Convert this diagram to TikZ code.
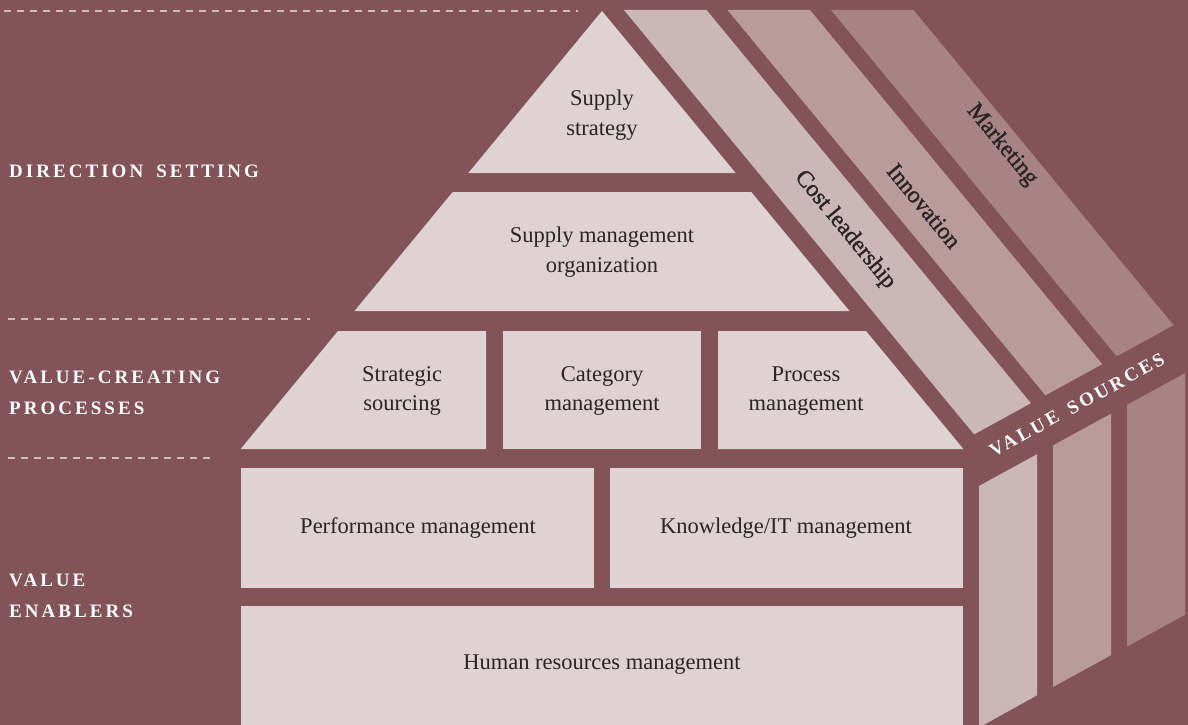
\documentclass[tikz,border=0pt]{standalone}
\usepackage{fontspec}
\setmainfont{Liberation Serif}
\newfontfamily\capsfont[LetterSpace=16]{Liberation Serif}
\newfontfamily\semifont[FakeBold=1.3]{Liberation Serif}

\definecolor{bgc}{HTML}{825358}
\definecolor{lightc}{HTML}{DED2D3}
\definecolor{bandA}{HTML}{CBB7B7}
\definecolor{bandB}{HTML}{B99B9C}
\definecolor{bandC}{HTML}{A78385}
\definecolor{dashc}{HTML}{D0BCBE}
\definecolor{ink}{HTML}{2B2426}

\begin{document}
\begin{tikzpicture}[x=1pt, y=-1pt,
  lbl/.style={text=ink, font=\fontsize{22.5}{29.5}\selectfont, align=center, inner sep=0pt},
  bandlbl/.style={text=ink, font=\semifont\fontsize{23.5}{26}\selectfont, inner sep=0pt, rotate=-50.5},
  side/.style={text=white, font=\capsfont\bfseries\fontsize{19}{31}\selectfont, align=left, inner sep=0pt},
  cut/.style={draw=dashc, line width=1.3pt, dash pattern=on 7pt off 6pt}]

% canvas
\useasboundingbox (0,0) rectangle (1188,725);
\clip (0,0) rectangle (1188,725);
\fill[bgc] (0,0) rectangle (1188,725);

% level separators
\draw[cut] (4,11) -- (578,11);
\draw[cut] (8,319) -- (310,319);
\draw[cut] (8,458) -- (216,458);

% pyramid
\fill[lightc] (602,11) -- (735.65,173) -- (468.35,173) -- cycle;
\fill[lightc] (452.7,192) -- (751.3,192) -- (849.5,311) -- (354.5,311) -- cycle;
\fill[lightc] (338,331) -- (486,331) -- (486,449) -- (240.65,449) -- cycle;
\fill[lightc] (503,331) rectangle (701,449);
\fill[lightc] (718,331) -- (866,331) -- (963.35,449) -- (718,449) -- cycle;
\fill[lightc] (241,468) rectangle (594,588);
\fill[lightc] (610,468) rectangle (963,588);
\fill[lightc] (241,606) rectangle (963,725);

% roof bands
\fill[bandA] (624,10) -- (706.5,10) -- (1030.9,403.2) -- (974.1,434.4) -- cycle;
\fill[bandB] (727.5,10) -- (810,10) -- (1102.2,364.2) -- (1045.4,395.3) -- cycle;
\fill[bandC] (831,10) -- (913.5,10) -- (1173.5,325.1) -- (1116.7,356.3) -- cycle;

% side walls
\fill[bandA] (979,486) -- (1037,454.2) -- (1037,695.3) -- (979,727.5) -- cycle;
\fill[bandB] (1053,445.4) -- (1111,413.7) -- (1111,655.2) -- (1053,687) -- cycle;
\fill[bandC] (1127,404.9) -- (1185,373.1) -- (1185,614.7) -- (1127,646.5) -- cycle;

% level names
\node[side, anchor=base west] (direction) at (9,177) {DIRECTION\hspace{13pt}SETTING};
\node[side, anchor=west] (processes) at (9,393) {VALUE-CREATING\\PROCESSES};
\node[side, anchor=west] (enablers) at (9,596) {VALUE\\ENABLERS};

% pyramid texts
\node[lbl] (strategy) at (602,115) {Supply\\strategy};
\node[lbl] (organization) at (602,252) {Supply management\\organization};
\node[lbl] (sourcing) at (402,391) {Strategic\\sourcing};
\node[lbl] (category) at (602,391) {Category\\management};
\node[lbl] (process) at (806,391) {Process\\management};
\node[lbl] (performance) at (418,528) {Performance management};
\node[lbl] (knowledge) at (786,528) {Knowledge/IT management};
\node[lbl] (hr) at (602,665) {Human resources management};

% value sources
\node[bandlbl] (cost) at (845,230) {Cost leadership};
\node[bandlbl] (innovation) at (924,206) {Innovation};
\node[bandlbl] (marketing) at (1002,145) {Marketing};
\node[side, rotate=28.7] (sources) at (1077,405) {VALUE\hspace{12pt}SOURCES};
\end{tikzpicture}
\end{document}
